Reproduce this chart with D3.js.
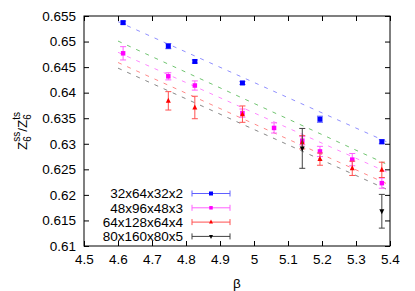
<!DOCTYPE html>
<html><head><meta charset="utf-8">
<script src="https://cdn.jsdelivr.net/npm/d3@7/dist/d3.min.js"></script>
<style>body{margin:0;background:#fff}svg{display:block;font-family:"Liberation Sans",Arial,sans-serif}</style>
</head><body><svg id="c" width="415" height="291"></svg>
<script>
const xTicks = [4.5,4.6,4.7,4.8,4.9,5.0,5.1,5.2,5.3,5.4];
const yTicks = [0.61,0.615,0.62,0.625,0.63,0.635,0.64,0.645,0.65,0.655];
const seriesNames = ["32x64x32x2","48x96x48x3","64x128x64x4","80x160x80x5"];
// [beta, value, error]
const blueData = [[4.615,0.6537,0.0003],[4.748,0.6491,0.0005],[4.826,0.6461,0.0003],[4.966,0.6419,0.0003],[5.194,0.6348,0.0006],[5.376,0.6304,0.0004]];
const magentaData = [[4.615,0.6477,0.0013],[4.748,0.6432,0.0007],[4.826,0.6414,0.0009],[4.966,0.6360,0.0008],[5.059,0.6331,0.0010],[5.142,0.6306,0.0008],[5.194,0.6285,0.0010],[5.289,0.6269,0.0012],[5.376,0.6223,0.0010]];
const redData = [[4.748,0.6384,0.0018],[4.826,0.6371,0.0022],[4.966,0.6358,0.0016],[5.142,0.6303,0.0013],[5.194,0.6270,0.0012],[5.289,0.6252,0.0014],[5.376,0.6249,0.0015]];
const blackData = [[5.142,0.6291,0.0039],[5.376,0.6168,0.0033]];
// fit lines: [beta0, v0, beta1, v1]
const fitLines = [
  {color:"#6a6aff", pts:[[4.6,0.6539],[5.4,0.6301]]},
  {color:"#40b040", pts:[[4.6,0.6501],[5.4,0.6257]]},
  {color:"#ff60ff", pts:[[4.6,0.6479],[5.4,0.6242]]},
  {color:"#ff6060", pts:[[4.6,0.6459],[5.4,0.6219]]},
  {color:"#606060", pts:[[4.6,0.6448],[5.4,0.6208]]}
];

const svg = d3.select("#c");
const L=84, R=390, T=16, B=246;
const x = d3.scaleLinear().domain([4.5,5.4]).range([L,R]);
const y = d3.scaleLinear().domain([0.61,0.655]).range([B,T]);
const fs = 13.5;

// fits
const line = d3.line().x(d=>x(d[0])).y(d=>y(d[1]));
fitLines.forEach(f=>{
  svg.append("path").attr("d",line(f.pts)).attr("fill","none")
    .attr("stroke",f.color).attr("stroke-width",1).attr("stroke-dasharray","4,6")
    .attr("stroke-opacity",0.75);
});

// axes
const ax = svg.append("g").attr("transform",`translate(0,${B})`)
  .call(d3.axisBottom(x).tickValues(xTicks).tickSize(-5).tickPadding(8).tickFormat(d3.format("~g")));
const axT = svg.append("g").attr("transform",`translate(0,${T})`)
  .call(d3.axisTop(x).tickValues(xTicks).tickSize(-5).tickFormat(""));
const ay = svg.append("g").attr("transform",`translate(${L},0)`)
  .call(d3.axisLeft(y).tickValues(yTicks).tickSize(-5).tickPadding(8).tickFormat(d3.format("~g")));
const ayR = svg.append("g").attr("transform",`translate(${R},0)`)
  .call(d3.axisRight(y).tickValues(yTicks).tickSize(-5).tickFormat(""));
[ax,axT,ay,ayR].forEach(g=>{
  g.select(".domain").remove();
  g.selectAll("line").attr("stroke","#000");
  g.selectAll("text").attr("font-size",fs).attr("fill","#000").attr("font-family","Liberation Sans, Arial, sans-serif");
});
ax.selectAll("text").attr("dy","0.71em");
svg.append("rect").attr("x",L).attr("y",T).attr("width",R-L).attr("height",B-T)
  .attr("fill","none").attr("stroke","#000").attr("stroke-width",1);

// series
const series = [
  {data:blueData, color:"#0000ff", bar:"#6060ff", shape:"sq", size:5},
  {data:magentaData, color:"#ff00ff", bar:"#ff60ff", shape:"sq", size:4.5},
  {data:redData, color:"#ff0000", bar:"#ff5050", shape:"tri", size:5},
  {data:blackData, color:"#000000", bar:"#404040", shape:"tridown", size:5}
];
function marker(g, cx, cy, s){
  const h = s.size;
  if(s.shape==="sq") g.append("rect").attr("x",cx-h/2).attr("y",cy-h/2).attr("width",h).attr("height",h).attr("fill",s.color);
  else if(s.shape==="tri") g.append("path").attr("d",`M${cx},${cy-h/2-0.5}L${cx+h/2},${cy+h/2-0.5}L${cx-h/2},${cy+h/2-0.5}Z`).attr("fill",s.color);
  else g.append("path").attr("d",`M${cx},${cy+h/2+0.5}L${cx+h/2},${cy-h/2+0.5}L${cx-h/2},${cy-h/2+0.5}Z`).attr("fill",s.color);
}
series.forEach(s=>{
  const g = svg.append("g");
  s.data.forEach(d=>{
    const cx=x(d[0]), y0=y(d[1]-d[2]), y1=y(d[1]+d[2]);
    g.append("line").attr("x1",cx).attr("x2",cx).attr("y1",y0).attr("y2",y1).attr("stroke",s.bar).attr("stroke-width",1);
    [y0,y1].forEach(yy=>g.append("line").attr("x1",cx-3).attr("x2",cx+3).attr("y1",yy).attr("y2",yy).attr("stroke",s.bar).attr("stroke-width",1));
    marker(g,cx,y(d[1]),s);
  });
});

// legend
const legX = 183, lx0 = 192, lx1 = 230, legY0 = 193.5, legDy = 14.3;
series.forEach((s,i)=>{
  const yy = legY0 + i*legDy;
  svg.append("text").attr("x",legX).attr("y",yy).attr("dy","0.35em").attr("text-anchor","end")
    .attr("font-size",fs).text(seriesNames[i]);
  svg.append("line").attr("x1",lx0).attr("x2",lx1).attr("y1",yy).attr("y2",yy).attr("stroke",s.bar);
  [lx0,lx1].forEach(xx=>svg.append("line").attr("x1",xx).attr("x2",xx).attr("y1",yy-3).attr("y2",yy+3).attr("stroke",s.bar));
  marker(svg,(lx0+lx1)/2,yy,{...s,size:s.size-1});
});

// axis titles
svg.append("text").attr("x",(L+R)/2).attr("y",283).attr("dy","0.35em").attr("text-anchor","middle")
  .attr("font-size",fs).text("β");
const yl = svg.append("text").attr("transform",`translate(27,${(T+B)/2}) rotate(-90)`)
  .attr("text-anchor","middle").attr("font-size",fs);
yl.append("tspan").text("Z");
yl.append("tspan").attr("font-size",10).attr("dy",4).text("6");
yl.append("tspan").attr("font-size",10).attr("dx",-5.5).attr("dy",-11).text("ss");
yl.append("tspan").attr("dy",7).text("/Z");
yl.append("tspan").attr("font-size",10).attr("dy",4).text("6");
yl.append("tspan").attr("font-size",10).attr("dx",-5.5).attr("dy",-11).text("ts");
</script></body></html>
